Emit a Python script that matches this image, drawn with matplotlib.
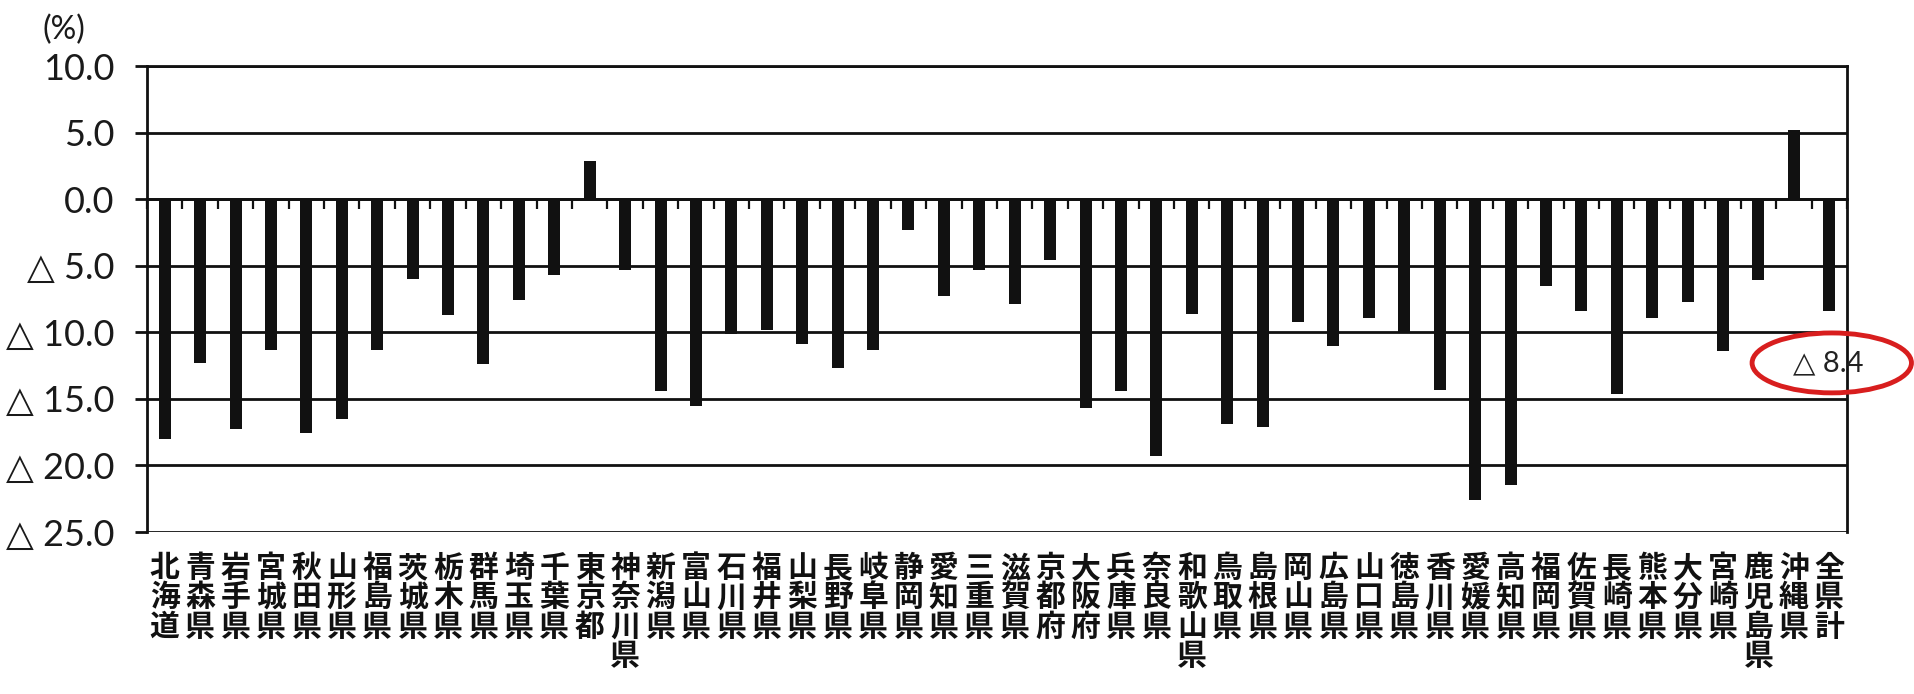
import matplotlib
matplotlib.use("Agg")
import matplotlib.pyplot as plt
from matplotlib.patches import Ellipse
import numpy as np

prefectures = ["北海道", "青森県", "岩手県", "宮城県", "秋田県", "山形県", "福島県", "茨城県",
               "栃木県", "群馬県", "埼玉県", "千葉県", "東京都", "神奈川県", "新潟県", "富山県",
               "石川県", "福井県", "山梨県", "長野県", "岐阜県", "静岡県", "愛知県", "三重県",
               "滋賀県", "京都府", "大阪府", "兵庫県", "奈良県", "和歌山県", "鳥取県", "島根県",
               "岡山県", "広島県", "山口県", "徳島県", "香川県", "愛媛県", "高知県", "福岡県",
               "佐賀県", "長崎県", "熊本県", "大分県", "宮崎県", "鹿児島県", "沖縄県", "全県計"]
values = [-18.0, -12.3, -17.3, -11.3, -17.6, -16.5, -11.3, -6.0,
          -8.7, -12.4, -7.6, -5.7, 2.9, -5.3, -14.4, -15.5,
          -10.1, -9.8, -10.9, -12.7, -11.3, -2.3, -7.3, -5.3,
          -7.9, -4.6, -15.7, -14.4, -19.3, -8.6, -16.9, -17.1,
          -9.2, -11.0, -8.9, -10.0, -14.3, -22.6, -21.5, -6.5,
          -8.4, -14.6, -8.9, -7.7, -11.4, -6.1, 5.2, -8.4]
y_ticks = [10, 5, 0, -5, -10, -15, -20, -25]
y_tick_labels = ["10.0", "5.0", "0.0", "△ 5.0", "△ 10.0", "△ 15.0", "△ 20.0", "△ 25.0"]
callout_text = "△ 8.4"

num_font = ["Lato", "DejaVu Sans", "Noto Sans CJK JP"]
cjk_font = ["Noto Sans CJK JP", "DejaVu Sans"]

fig = plt.figure(figsize=(19.15, 6.94), dpi=100)
ax = fig.add_axes([147 / 1915, 1 - 532 / 694, 1700 / 1915, 466 / 694])

x = np.arange(len(values))
ax.bar(x, values, width=0.34, color="#111111", zorder=3)

ax.set_xlim(-0.5, len(values) - 0.5)
ax.set_ylim(-25, 10)

# horizontal gridlines
for t in y_ticks:
    ax.axhline(t, color="#111111", lw=2.0, zorder=1)

ax.set_yticks(y_ticks)
ax.set_yticklabels(y_tick_labels, fontsize=26, family=num_font, color="#1a1a1a")
ax.tick_params(axis="y", length=8.6, width=2.0, pad=15, color="#111111")

# category axis at zero with boundary ticks
ax.spines["bottom"].set_position(("data", 0))
ax.set_xticks(np.arange(-0.5, len(values), 1.0))
ax.tick_params(axis="x", direction="out", length=7, width=1.6, labelbottom=False, color="#111111")
for s in ["left", "right", "top", "bottom"]:
    ax.spines[s].set_linewidth(2.0)
    ax.spines[s].set_color("#111111")

# category labels stacked vertically
for i, name in enumerate(prefectures):
    ax.text(i, -0.045, "\n".join(name), transform=ax.get_xaxis_transform(),
            ha="center", va="top", fontsize=21.5, family=cjk_font, fontweight="bold",
            linespacing=0.97, color="#111111")

fig.text(42 / 1915, 1 - 30 / 694, "(%)", fontsize=23, family=num_font, va="center", ha="left",
         color="#1a1a1a")

# red callout for the total
cx = len(values) - 1 + 0.07
cy = values[-1] - 3.9
ax.add_patch(Ellipse((cx, cy), 4.5, 4.5, fill=False, edgecolor="#d81e1e", lw=3.5,
                     clip_on=False, zorder=5))
ax.text(cx - 0.09, cy, callout_text, ha="center", va="center", fontsize=21, family=num_font,
        color="#222222", clip_on=False, zorder=6)

fig.savefig("out.png", dpi=100)
